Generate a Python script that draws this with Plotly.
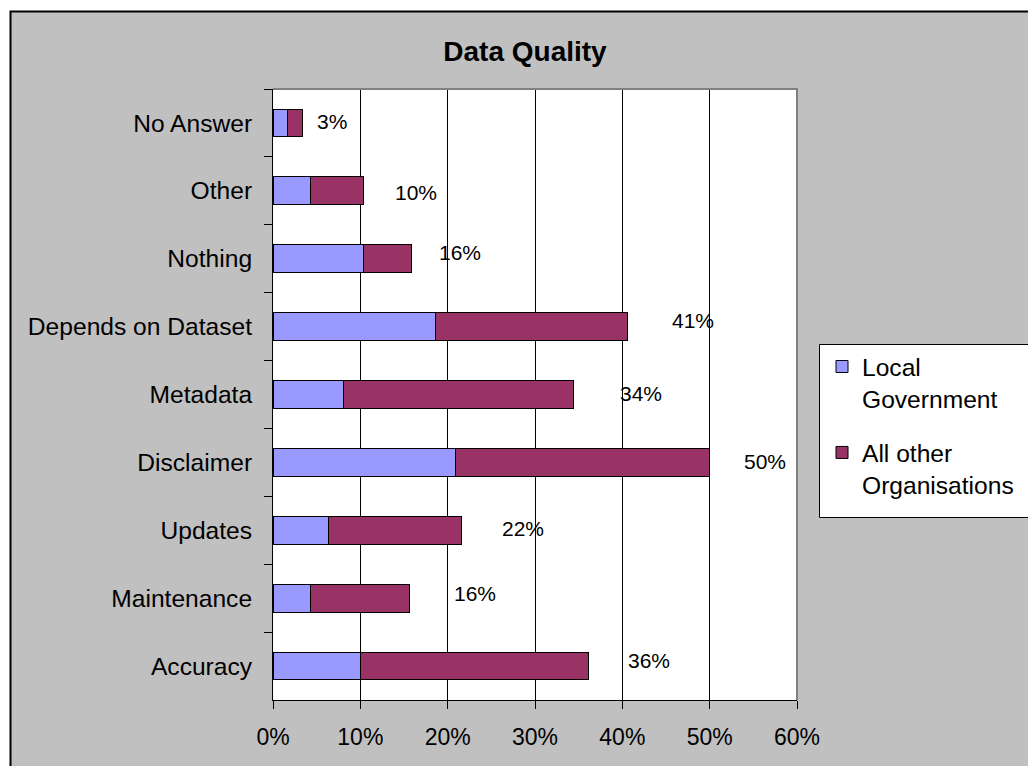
import plotly.graph_objects as go

# Survey responses on data quality measures, percent of all respondents
categories = ["No Answer", "Other", "Nothing", "Depends on Dataset", "Metadata",
              "Disclaimer", "Updates", "Maintenance", "Accuracy"]
local_government = [1.7, 4.3, 10.4, 18.6, 8.1, 20.9, 6.4, 4.3, 10.0]
other_organisations = [1.7, 6.1, 5.5, 22.0, 26.3, 29.1, 15.2, 11.3, 26.1]
x_ticks = [0, 10, 20, 30, 40, 50, 60]
x_tick_labels = ["0%", "10%", "20%", "30%", "40%", "50%", "60%"]

totals = [a + b for a, b in zip(local_government, other_organisations)]

# pixel offsets of each total label from the end of its bar
label_dx = [29, 52, 48, 65, 68, 55, 61, 66, 61]
label_dy = [1, -2, 6, 6, 1, 1, 2, 5, 6]

FONT = "Liberation Sans, Arial, sans-serif"

# plot area in pixels
W, H = 1028, 766
L, R, T, B = 273, 797, 89, 700
pw, ph = R - L, B - T


def px_x(x):
    return (x - L) / pw


def px_y(y):
    return (B - y) / ph


fig = go.Figure()
fig.add_bar(
    y=categories, x=local_government, orientation="h",
    name="Local<br>Government", legendgroup="lg",
    marker=dict(color="#9999FF", line=dict(color="black", width=1)),
)
fig.add_bar(
    y=categories, x=other_organisations, orientation="h",
    name="All other<br>Organisations", legendgroup="ao",
    marker=dict(color="#993366", line=dict(color="black", width=1)),
)

for cat, tot, dx, dy in zip(categories, totals, label_dx, label_dy):
    fig.add_annotation(
        x=tot, y=cat, text=f"{round(tot):.0f}%", showarrow=False,
        xanchor="center", yanchor="middle", xshift=dx, yshift=dy,
        font=dict(family=FONT, size=21, color="black"),
    )

shapes = [
    # chart area
    dict(type="rect", xref="paper", yref="paper", layer="below",
         x0=px_x(10.5), x1=px_x(1060), y0=px_y(800), y1=px_y(11.5),
         fillcolor="#C0C0C0", line=dict(color="black", width=2)),
    # plot area
    dict(type="rect", xref="paper", yref="paper", layer="below",
         x0=0, x1=1, y0=0, y1=1, fillcolor="white", line=dict(width=0)),
    # plot area frame (top and right)
    dict(type="path", xref="paper", yref="paper", layer="above",
         path="M0,1 L1,1 L1,0", line=dict(color="#808080", width=2)),
    # legend box
    dict(type="rect", xref="paper", yref="paper", layer="above",
         x0=px_x(819.5), x1=px_x(1060), y0=px_y(517.5), y1=px_y(344.5),
         fillcolor="white", line=dict(color="black", width=1)),
]

fig.update_layout(
    width=W, height=H,
    margin=dict(l=L, r=W - R, t=T, b=H - B, pad=0, autoexpand=False),
    paper_bgcolor="white", plot_bgcolor="white",
    barmode="stack", bargap=0.59,
    font=dict(family=FONT, size=24.6, color="black"),
    title=dict(text="<b>Data Quality</b>", xref="container", yref="container",
               x=525 / W, xanchor="center", y=1 - 51 / H, yanchor="middle",
               font=dict(family=FONT, size=28, color="black")),
    xaxis=dict(range=[0, 60], tickvals=x_ticks, ticktext=x_tick_labels,
               showgrid=True, gridcolor="black", gridwidth=1,
               ticks="outside", ticklen=8, tickcolor="black", tickwidth=1,
               showline=True, linecolor="black", linewidth=1,
               zeroline=False, tickfont=dict(size=23),
               ticklabelstandoff=8, fixedrange=True),
    yaxis=dict(autorange="reversed", tickson="boundaries",
               ticks="outside", ticklen=8, tickcolor="black", tickwidth=1,
               showline=True, linecolor="black", linewidth=1,
               showgrid=False, tickfont=dict(size=24.6),
               ticklabelstandoff=15, fixedrange=True),
    legend=dict(x=px_x(822), xanchor="left", y=px_y(344), yanchor="top",
                bgcolor="rgba(0,0,0,0)", borderwidth=0,
                traceorder="grouped", tracegroupgap=19, valign="top",
                font=dict(family=FONT, size=24.6, color="black")),
    shapes=shapes,
    showlegend=True,
)

fig.write_html("out.html")
